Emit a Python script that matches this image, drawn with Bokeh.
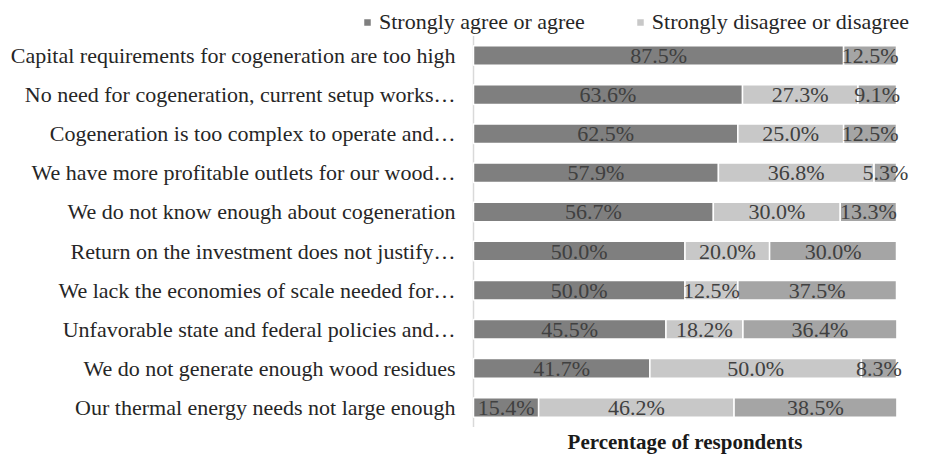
from bokeh.plotting import figure
from bokeh.models import ColumnDataSource, Legend, LegendItem, Range1d
from bokeh.embed import file_html
from bokeh.resources import INLINE
from bokeh.core.properties import value

categories = [
    "Capital requirements for cogeneration are too high",
    "No need for cogeneration, current setup works…",
    "Cogeneration is too complex to operate and…",
    "We have more profitable outlets for our wood…",
    "We do not know enough about cogeneration",
    "Return on the investment does not justify…",
    "We lack the economies of scale needed for…",
    "Unfavorable state and federal policies and…",
    "We do not generate enough wood residues",
    "Our thermal energy needs not large enough",
]
agree = [87.5, 63.6, 62.5, 57.9, 56.7, 50.0, 50.0, 45.5, 41.7, 15.4]
disagree = [0.0, 27.3, 25.0, 36.8, 30.0, 20.0, 12.5, 18.2, 50.0, 46.2]
neutral = [12.5, 9.1, 12.5, 5.3, 13.3, 30.0, 37.5, 36.4, 8.3, 38.5]
series_names = ["Strongly agree or agree", "Strongly disagree or disagree", "Neither"]
colors = ["#7f7f7f", "#c8c8c8", "#a5a5a5"]
x_title = "Percentage of respondents"

FONT = "Liberation Serif"
W, H = 936, 458
N = len(categories)

# layout: pixel positions of 0% / 100% and of first/last row centres
X0_PX, X100_PX = 473, 896
Y_TOP_PX, Y_BOT_PX = 55, 407
sx = (X100_PX - X0_PX) / 100.0
sy = (Y_BOT_PX - Y_TOP_PX) / (N - 1)
x_range = Range1d(-X0_PX / sx, (W - X0_PX) / sx)
y_end = (N - 1) + Y_TOP_PX / sy
y_range = Range1d(y_end - H / sy, y_end)

p = figure(width=W, height=H, output_backend="svg", toolbar_location=None,
           x_range=x_range, y_range=y_range,
           x_axis_location=None, y_axis_location=None,
           min_border_left=0, min_border_right=0, min_border_top=0, min_border_bottom=0)
p.outline_line_color = None
p.grid.visible = False

ypos = [N - 1 - i for i in range(N)]

# category axis line
p.segment(x0=[0], y0=[-0.5], x1=[0], y1=[N - 0.5], line_color="#d9d9d9", line_width=1.5)

renderers = []
starts = [0.0] * N
label_x, label_y, label_t = [], [], []
for vals, col in zip([agree, disagree, neutral], colors):
    ends = [s + v for s, v in zip(starts, vals)]
    src = ColumnDataSource(dict(y=ypos, left=starts, right=ends))
    r = p.hbar(y="y", left="left", right="right", height=0.5, source=src,
               fill_color=col, line_color="white", line_width=1.5)
    renderers.append(r)
    for yy, s, v in zip(ypos, starts, vals):
        if v > 0:
            label_x.append(s + v / 2)
            label_y.append(yy)
            label_t.append(f"{v:.1f}%")
    starts = ends

lsrc = ColumnDataSource(dict(x=label_x, y=label_y, t=label_t))
p.text(x="x", y="y", text="t", source=lsrc, text_align="center", text_baseline="middle",
       text_font=value(FONT), text_font_size="22px", text_color="#404040")

# category labels
csrc = ColumnDataSource(dict(x=[0] * N, y=ypos, t=categories))
p.text(x="x", y="y", text="t", source=csrc, x_offset=-18, text_align="right",
       text_baseline="middle", text_font=value(FONT), text_font_size="22px",
       text_color="#262626")

# x title, centred under the 0-100% span
p.text(x=[50], y=[-0.87], text=[x_title], text_align="center", text_baseline="middle",
       text_font=value(FONT), text_font_size="21px", text_font_style="bold",
       text_color="#1a1a1a")

legend = Legend(items=[LegendItem(label=series_names[0], renderers=[renderers[0]]),
                       LegendItem(label=series_names[1], renderers=[renderers[1]])],
                orientation="horizontal", location=(362, H - 35),
                label_text_font=FONT, label_text_font_size="22px", label_text_color="#262626",
                glyph_width=10, glyph_height=10, spacing=50, label_standoff=7,
                border_line_color=None, background_fill_alpha=0,
                padding=2, margin=0)
p.add_layout(legend)

open("out.html", "w").write(file_html(p, INLINE))
